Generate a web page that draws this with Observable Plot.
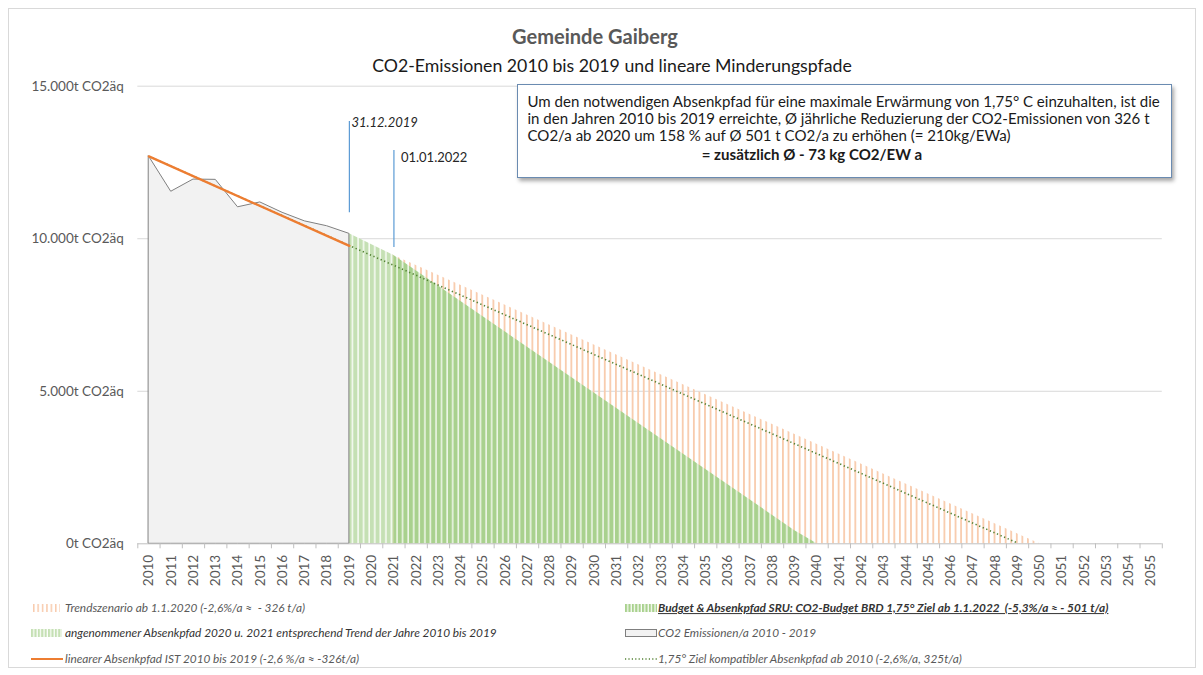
<!DOCTYPE html>
<html><head><meta charset="utf-8">
<script src="https://cdn.jsdelivr.net/npm/d3@7"></script>
<script src="https://cdn.jsdelivr.net/npm/@observablehq/plot@0.6"></script>
<style>
body{margin:0;background:#fff;font-family:Lato,"Open Sans",sans-serif;}
#wrap{position:relative;width:1203px;height:675px;overflow:hidden;background:#fff;}
#wrap svg.plot{position:absolute;left:0;top:0;}
.abs{position:absolute;white-space:pre;line-height:1;transform:translateY(-50%);}
#frame{position:absolute;left:8px;top:8px;width:1186px;height:658px;border:1px solid #d9d9d9;}
#box{position:absolute;left:517px;top:84px;width:653px;height:92px;border:1.5px solid #6a8bb1;background:#fff;box-shadow:2px 3px 4px rgba(0,0,0,0.35);}
.leg{color:#595959;font-style:italic;}
.sym{position:absolute;}
</style></head><body>
<svg width="0" height="0" style="position:absolute">
<defs>
<pattern id="pOrange" patternUnits="userSpaceOnUse" x="2.5" y="0" width="5.568" height="20"><rect x="0" y="0" width="1.8" height="20" fill="#f8cbad"/></pattern>
<pattern id="pGreenL" patternUnits="userSpaceOnUse" x="2.5" y="0" width="5.568" height="20"><rect x="0" y="0" width="5.568" height="20" fill="#f7fbf4"/><rect x="0" y="0" width="4" height="20" fill="#c5e0b4"/></pattern>
<pattern id="pGreenD" patternUnits="userSpaceOnUse" x="2.5" y="0" width="5.568" height="20"><rect x="0" y="0" width="5.568" height="20" fill="#eef6e8"/><rect x="0" y="0" width="4" height="20" fill="#a9d18e"/></pattern>
<pattern id="lOrange" patternUnits="userSpaceOnUse" x="0" y="0" width="4.4" height="20"><rect x="0" y="0" width="1.5" height="20" fill="#f8cbad"/></pattern>
<pattern id="lGreenL" patternUnits="userSpaceOnUse" x="0" y="0" width="3.4" height="20"><rect x="0" y="0" width="2.2" height="20" fill="#c5e0b4"/></pattern>
<pattern id="lGreenD" patternUnits="userSpaceOnUse" x="0" y="0" width="3.4" height="20"><rect x="0" y="0" width="2.2" height="20" fill="#a9d18e"/></pattern>
</defs></svg>
<div id="wrap"><div id="frame"></div></div>
<script>
// ---- data ----
const years = [2010,2011,2012,2013,2014,2015,2016,2017,2018,2019,2020,2021,2022,2023,2024,2025,2026,2027,2028,2029,2030,2031,2032,2033,2034,2035,2036,2037,2038,2039,2040,2041,2042,2043,2044,2045,2046,2047,2048,2049,2050,2051,2052,2053,2054,2055];
const yTicks = [0, 5000, 10000, 15000];
const yTickLabels = ["0t CO2äq", "5.000t CO2äq", "10.000t CO2äq", "15.000t CO2äq"];

const emissionYears  = [2010, 2011, 2012, 2013, 2014, 2015, 2016, 2017, 2018, 2019];
const emissionValues = [12700, 11540, 11940, 11930, 11030, 11190, 10850, 10570, 10410, 10160];

const linYears  = [2010, 2019];
const linValues = [12700, 9766];

const dottedYears  = [2010, 2049];
const dottedValues = [12700, 25];

const trendYears  = [2019, 2050];
const trendValues = [10100, 0];

const greenLightYears  = [2019, 2021];
const greenLightValues = [10160, 9450];

const greenDarkYears  = [2021, 2039, 2040];
const greenDarkValues = [9450, 430, 0];

const markerX      = [2019, 2021];
const markerY1     = [10855, 9710];
const markerY2     = [13840, 12890];
const markerLabels = ["31.12.2019", "01.01.2022"];
const markerLabelY = [13800, 12660];

const titleText = "Gemeinde Gaiberg";
const subtitleText = "CO2-Emissionen 2010 bis 2019 und lineare Minderungspfade";
const boxLines = [
  "Um den notwendigen Absenkpfad für eine maximale Erwärmung von 1,75° C einzuhalten, ist die",
  "in den Jahren 2010 bis 2019 erreichte, Ø jährliche Reduzierung der CO2-Emissionen von 326 t",
  "CO2/a ab 2020 um 158 % auf Ø 501 t CO2/a zu erhöhen (= 210kg/EWa)",
  "= zusätzlich Ø - 73 kg CO2/EW a"
];
const legendLabels = [
  "Trendszenario ab 1.1.2020 (-2,6%/a ≈  - 326 t/a)",
  "angenommener Absenkpfad 2020 u. 2021 entsprechend Trend der Jahre 2010 bis 2019",
  "linearer Absenkpfad IST 2010 bis 2019 (-2,6 %/a ≈ -326t/a)",
  "Budget & Absenkpfad SRU: CO2-Budget BRD 1,75° Ziel ab 1.1.2022  (-5,3%/a ≈ - 501 t/a)",
  "CO2 Emissionen/a 2010 - 2019",
  "1,75° Ziel kompatibler Absenkpfad ab 2010 (-2,6%/a, 325t/a)"
];

// ---- tables ----
const zip = (xs, ys) => xs.map((x, i) => ({x, y: ys[i]}));
const emissions = zip(emissionYears, emissionValues);
const lin = zip(linYears, linValues);
const dotted = zip(dottedYears, dottedValues);
const trend = zip(trendYears, trendValues);
const greenL = zip(greenLightYears, greenLightValues);
const greenD = zip(greenDarkYears, greenDarkValues);
const markers = markerX.map((x, i) => ({x, y1: markerY1[i], y2: markerY2[i], label: markerLabels[i], ly: markerLabelY[i]}));
const boundaries = years.map(y => y - 0.5).concat([years[years.length - 1] + 0.5]);
const yLabelRows = yTicks.map((v, i) => ({v, label: yTickLabels[i]}));

const chart = Plot.plot({
  width: 1203, height: 675,
  marginTop: 85.7, marginBottom: 131.7, marginLeft: 137.3, marginRight: 41.2,
  x: {type: "linear", domain: [years[0] - 0.5, years[years.length - 1] + 0.5], axis: null},
  y: {domain: [0, 15000], axis: null},
  style: {fontFamily: "Lato, sans-serif", fontSize: "13px", background: "transparent", overflow: "visible"},
  marks: [
    Plot.gridY(yTicks.slice(1), {stroke: "#d9d9d9", strokeOpacity: 1}),
    Plot.areaY(trend, {x: "x", y: "y", fill: "url(#pOrange)"}),
    Plot.areaY(greenL, {x: "x", y: "y", fill: "url(#pGreenL)"}),
    Plot.areaY(greenD, {x: "x", y: "y", fill: "url(#pGreenD)"}),
    Plot.areaY(emissions, {x: "x", y: "y", fill: "#f2f2f2", stroke: "#808080", strokeWidth: 1}),
    Plot.line(dotted, {x: "x", y: "y", stroke: "#548235", strokeWidth: 1.6, strokeDasharray: "1.3 2.6", strokeLinecap: "butt"}),
    Plot.line(lin, {x: "x", y: "y", stroke: "#ed7d31", strokeWidth: 2.3}),
    Plot.ruleY([0], {stroke: "#bfbfbf"}),
    Plot.axisX(boundaries, {tickSize: 5, stroke: "#bfbfbf", fill: "none", label: null}),
    Plot.text(years, {x: d => d, frameAnchor: "bottom", rotate: -90, textAnchor: "end", lineAnchor: "middle", dy: 11, text: d => String(d), fill: "#595959", fontSize: 13.5}),
    Plot.text(yLabelRows, {y: "v", frameAnchor: "left", textAnchor: "end", dx: -14, text: "label", fill: "#595959", fontSize: 13.5}),
    Plot.ruleX(markers, {x: "x", y1: "y1", y2: "y2", stroke: "#5b9bd5", strokeWidth: 1.2}),
    Plot.text(markers.slice(0, 1), {x: "x", y: "ly", text: "label", dx: 2, textAnchor: "start", fontStyle: "italic", fontSize: 13, fill: "#262626"}),
    Plot.text(markers.slice(1), {x: "x", y: "ly", text: "label", dx: 7, textAnchor: "start", fontSize: 13, fill: "#262626"})
  ]
});
chart.classList.add("plot");
const wrap = document.getElementById("wrap");
wrap.appendChild(chart);

function addText(txt, left, cy, cls, style) {
  const d = document.createElement("div");
  d.className = "abs " + (cls || "");
  d.textContent = txt;
  d.style.left = left + "px";
  d.style.top = cy + "px";
  Object.assign(d.style, style || {});
  wrap.appendChild(d);
  return d;
}
function fitGroup(els, ref, target) {
  const w = ref.getBoundingClientRect().width;
  const fs = parseFloat(getComputedStyle(ref).fontSize) * target / w;
  els.forEach(e => e.style.fontSize = fs + "px");
}
function center(el, cx) {
  const w = el.getBoundingClientRect().width;
  el.style.left = (cx - w / 2) + "px";
}

// title & subtitle
const tEl = addText(titleText, 512, 36, "", {fontWeight: "bold", color: "#595959", fontSize: "18px"});
fitGroup([tEl], tEl, 166); center(tEl, 595);
const sEl = addText(subtitleText, 372, 66, "", {color: "#1a1a1a", fontSize: "16px"});
fitGroup([sEl], sEl, 480); center(sEl, 612);

// annotation box
const box = document.createElement("div"); box.id = "box"; wrap.appendChild(box);
const boxY = [102, 119, 136, 155];
const bEls = boxLines.map((t, i) => addText(t, 527.5, boxY[i], "", {color: "#1a1a1a", fontSize: "13.5px", fontWeight: i === 3 ? "bold" : "normal"}));
fitGroup(bEls, bEls[0], 633);
center(bEls[3], 812);

// legend
const legX = [65, 65, 65, 658, 658, 658];
const legY = [608, 633, 659, 608, 633, 659];
const lEls = legendLabels.map((t, i) => addText(t, legX[i], legY[i], "leg", {fontSize: "11px"}));
lEls[1].style.color = "#333"; 
lEls[3].style.color = "#333"; lEls[3].style.fontWeight = "bold"; lEls[3].style.textDecoration = "underline";
fitGroup(lEls, lEls[1], 432);

// legend symbols
function sym(left, cy, w, h, inner) {
  const s = document.createElementNS("http://www.w3.org/2000/svg", "svg");
  s.setAttribute("width", w); s.setAttribute("height", h);
  s.setAttribute("class", "sym");
  s.style.left = left + "px"; s.style.top = (cy - h / 2) + "px";
  s.innerHTML = inner;
  wrap.appendChild(s);
}
sym(33, 608, 27, 8, '<rect x="0" y="0" width="27" height="8" fill="url(#lOrange)"/>');
sym(31, 633, 31, 8, '<rect x="0" y="0" width="31" height="8" fill="url(#lGreenL)"/>');
sym(31, 659, 32, 4, '<line x1="0" x2="32" y1="2" y2="2" stroke="#ed7d31" stroke-width="2"/>');
sym(625, 608, 32, 8, '<rect x="0" y="0" width="32" height="8" fill="url(#lGreenD)"/>');
sym(625, 633, 32, 9, '<rect x="0.5" y="0.5" width="31" height="7" fill="#f2f2f2" stroke="#7f7f7f" stroke-width="1"/>');
sym(625, 659, 32, 4, '<line x1="0" x2="32" y1="2" y2="2" stroke="#548235" stroke-width="1.4" stroke-dasharray="1.2 2.2"/>');
</script>
</body></html>
